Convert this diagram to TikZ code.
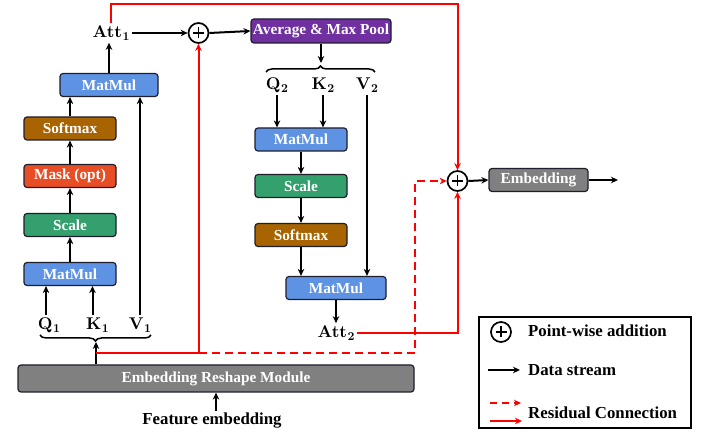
\documentclass[tikz,border=0pt]{standalone}
\usepackage[no-math]{fontspec}
\setmainfont{Liberation Serif}
\newfontfamily\lmfont{lmroman10-regular.otf}[BoldFont=lmroman10-bold.otf]
\usetikzlibrary{arrows.meta,decorations.pathreplacing,calc}

\definecolor{mmblue}{RGB}{94,147,227}
\definecolor{scgreen}{RGB}{52,160,110}
\definecolor{smbrown}{RGB}{168,100,0}
\definecolor{maskred}{RGB}{232,78,37}
\definecolor{poolpurple}{RGB}{112,48,160}
\definecolor{embgray}{RGB}{128,128,128}
\definecolor{edge}{RGB}{30,30,45}
\definecolor{resred}{RGB}{255,0,0}

\newcommand\boxfont{\fontsize{15.3}{17}\selectfont\bfseries}
\newcommand\symfont{\lmfont\fontsize{17}{19}\selectfont\bfseries}
\newcommand\legfont{\fontsize{16.8}{19}\selectfont\bfseries}
% bold symbol with a lowered index
\newcommand\sym[2]{#1\kern0.5pt\raisebox{-3.4pt}{\fontsize{12}{12}\selectfont#2}}

\tikzset{
  blk/.style={rounded corners=3pt, draw=edge, line width=1.2pt, text=white,
    font=\boxfont, minimum height=23pt, inner sep=0pt},
  lbl/.style={font=\symfont, inner sep=2pt},
  arr/.style={line width=2pt, -{Stealth[length=7pt,width=6.5pt]}},
  res/.style={draw=resred, line width=2pt},
  resarr/.style={res, -{Stealth[length=7pt,width=6.5pt]}},
  resdash/.style={res, dash pattern=on 8pt off 5pt, -{Stealth[length=7pt,width=6.5pt]}},
  addnode/.style={circle, draw, line width=1.7pt, minimum size=20pt, inner sep=0pt,
    path picture={
      \draw[line width=1.9pt] ($(path picture bounding box.center)+(-5.5pt,0)$) -- ++(11pt,0);
      \draw[line width=1.9pt] ($(path picture bounding box.center)+(0,-5.5pt)$) -- ++(0,11pt);
    }},
  bracebot/.style={decorate, line width=1.5pt, decoration={brace, mirror, amplitude=6pt}},
  bracetop/.style={decorate, line width=1.5pt, decoration={brace, amplitude=6pt}},
}

\begin{document}
\begin{tikzpicture}[x=1pt, y=-1pt]
\useasboundingbox[fill=white] (0,0) rectangle (702,435);

% ---- first attention branch ----
\node[blk, fill=mmblue, minimum width=98pt] (mm1) at (109,85) {MatMul};
\node[blk, fill=smbrown, minimum width=92pt] (sm1) at (70,128.5) {Softmax};
\node[blk, fill=maskred, minimum width=92pt] (mask) at (70,176) {Mask (opt)};
\node[blk, fill=scgreen, minimum width=92pt] (sc1) at (70,225) {Scale};
\node[blk, fill=mmblue, minimum width=92pt] (mm0) at (70,274) {MatMul};

\node[lbl] (q1) at (49,325) {\sym{Q}{1}};
\node[lbl] (k1) at (97.5,325) {\sym{K}{1}};
\node[lbl] (v1) at (140,325) {\sym{V}{1}};
\node[lbl] (att1) at (111,33) {\sym{Att}{1}};
\node[addnode] (plus1) at (198.5,33) {};

\draw[bracebot] (40,335) -- (151,335);
\coordinate (tip1) at (96,342);

\path (q1.north) ++(-3,0) coordinate (q1t);
\path (k1.north) ++(-5,0) coordinate (k1t);
\draw[arr] (q1t) -- (q1t |- mm0.south);
\draw[arr] (k1t) -- (k1t |- mm0.south);
\draw[arr] (v1.north) -- (v1.north |- mm1.south);
\draw[arr] (mm0.north) -- (sc1.south);
\draw[arr] (sc1.north) -- (mask.south);
\draw[arr] (mask.north) -- (sm1.south);
\draw[arr] (sm1.north) -- (sm1.north |- mm1.south);
\draw[arr] (mm1.north) -- (mm1.north |- att1.south);
\draw[arr] (att1.east) -- (plus1.west);

% ---- second attention branch ----
\node[blk, fill=poolpurple, minimum width=140pt, minimum height=24pt] (pool) at (321,31) {Average \& Max Pool};
\draw[bracetop] (266,72) -- (375,72);
\coordinate (tip2) at (321,63);
\draw[arr] (plus1.east) -- (pool.west);
\draw[arr] (pool.south) -- (tip2);

\node[lbl] (q2) at (277,85) {\sym{Q}{2}};
\node[lbl] (k2) at (323,85) {\sym{K}{2}};
\node[lbl] (v2) at (367,85) {\sym{V}{2}};

\node[blk, fill=mmblue, minimum width=92pt] (mm2) at (301,139.5) {MatMul};
\node[blk, fill=scgreen, minimum width=92pt] (sc2) at (301,186) {Scale};
\node[blk, fill=smbrown, minimum width=92pt] (sm2) at (301,235) {Softmax};
\node[blk, fill=mmblue, minimum width=100pt] (mm3) at (336,288) {MatMul};
\node[lbl] (att2) at (336,333) {\sym{Att}{2}};

\draw[arr] (q2.south) -- (q2.south |- mm2.north);
\draw[arr] (k2.south) -- (k2.south |- mm2.north);
\draw[arr] (v2.south) -- (v2.south |- mm3.north);
\draw[arr] (mm2.south) -- (sc2.north);
\draw[arr] (sc2.south) -- (sm2.north);
\draw[arr] (sm2.south) -- (sm2.south |- mm3.north);
\draw[arr] (mm3.south) -- (att2.north);

% ---- input ----
\node[blk, fill=embgray, minimum width=396pt, minimum height=27pt] (reshape) at (216,378.5) {Embedding Reshape Module};
\node[font=\legfont, inner sep=2pt] (feat) at (212,421) {Feature embedding};
\coordinate (fx) at (216,0);
\draw[arr] (feat.north -| fx) -- (fx |- reshape.south);
\draw[arr] (tip1 |- reshape.north) -- (tip1);

% ---- fusion ----
\node[addnode] (plus2) at (457.5,181) {};
\node[blk, fill=embgray, minimum width=99pt] (emb) at (538.5,180) {Embedding};
\coordinate (out) at (618,180);
\draw[arr] (plus2.east) -- (emb.west);
\draw[arr] (emb.east) -- (out);

% ---- residual paths ----
\coordinate (ytop) at (0,4);
\coordinate (yres) at (0,353);
\coordinate (split) at (plus1.south |- yres);
\draw[resarr] (att1.north) -- (att1.north |- ytop) -| (plus2.north);
\draw[res] (tip1 |- yres) -- (split);
\draw[resarr] (split) -- (plus1.south);
\draw[resdash] (split) -- (reshape.east |- yres) |- (plus2.west);
\draw[resarr] (att2.east) -| (plus2.south);

% ---- legend ----
\node[draw, line width=1.6pt, minimum width=212pt, minimum height=111pt, inner sep=0pt] (legend) at (585,372.5) {};
\node[addnode] (legplus) at (501,332) {};
\node[font=\legfont, anchor=west, inner sep=0pt] (legadd) at (528,331) {Point-wise addition};
\node[font=\legfont, anchor=west, inner sep=0pt] (legdata) at (528,370) {Data stream};
\node[font=\legfont, anchor=west, inner sep=0pt] (legres) at (528,413) {Residual Connection};
\coordinate (l1a) at (488,370);
\coordinate (l1b) at (520,370);
\coordinate (l2a) at (490,403);
\coordinate (l2b) at (521,403);
\coordinate (l3a) at (490,421);
\coordinate (l3b) at (522,421);
\draw[arr] (l1a) -- (l1b);
\draw[resdash, dash pattern=on 7pt off 5pt] (l2a) -- (l2b);
\draw[resarr] (l3a) -- (l3b);
\end{tikzpicture}
\end{document}
